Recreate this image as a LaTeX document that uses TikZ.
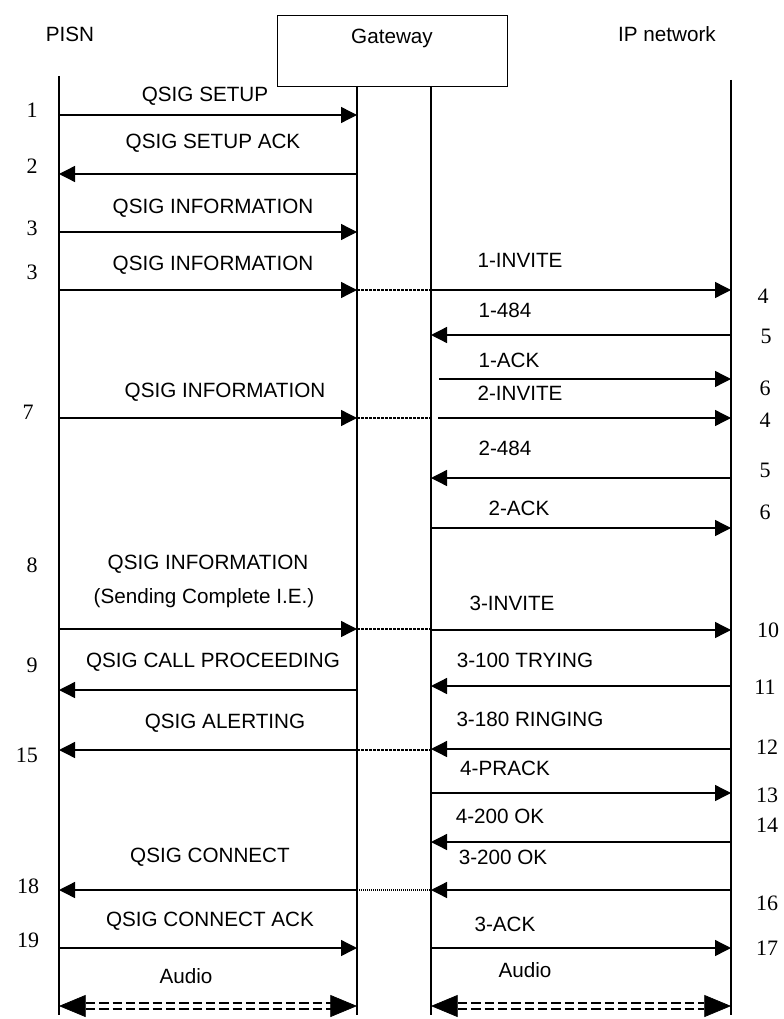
\documentclass[tikz,border=0pt]{standalone}
\usepackage{fontspec}
\setmainfont{Liberation Sans}
\newfontfamily\numfont{Liberation Serif}
\usetikzlibrary{arrows.meta}
\begin{document}
\begin{tikzpicture}[x=0.75pt,y=-0.75pt,
  life/.style={line width=1pt},
  msg/.style={line width=1pt,-{Triangle[length=12pt,width=12pt]}},
  lbl/.style={font=\fontsize{15.5}{18}\selectfont, inner sep=0},
  num/.style={font=\numfont\fontsize{16.5}{18}\selectfont, inner sep=0},
  gap/.style={line width=1.8pt, dash pattern=on 2.2pt off 0.8pt},
  thingap/.style={line width=0.9pt, dash pattern=on 0.9pt off 0.6pt},
  audio/.style={line width=1.5pt, dash pattern=on 7pt off 3pt},
  audiotip/.style={white, line width=0.5pt, {Triangle[color=black,length=20pt,width=16.5pt]}-{Triangle[color=black,length=20pt,width=16.5pt]}},
]
\useasboundingbox (0,0) rectangle (783,1019);
% headers
\node[lbl] (hp) at (70,34) {PISN};
\node[draw, line width=1pt, minimum width=172.5pt, minimum height=53.25pt, anchor=north west, inner sep=0] (gw) at (277,15) {};
\node[lbl] (hg) at (392,38) {Gateway};
\node[lbl] (hi) at (667,34) {IP network};
% lifelines
\coordinate (p) at (59,76);   \coordinate (pb) at (59,1015);
\coordinate (g1) at (357,86); \coordinate (g1b) at (357,1015);
\coordinate (g2) at (431,86); \coordinate (g2b) at (431,1015);
\coordinate (ip) at (731,80);  \coordinate (ipb) at (731,1015);
\draw[life] (p) -- (pb);
\draw[life] (g1) -- (g1b);
\draw[life] (g2) -- (g2b);
\draw[life] (ip) -- (ipb);

% 1
\node[num] (n1) at (32,110) {1};
\node[lbl] (l1) at (205,96) {QSIG SETUP};
\draw[msg] (p |- 0,115) -- (g1 |- 0,115);
% 2
\node[num] (n2) at (32,166) {2};
\node[lbl] (l2) at (213,143) {QSIG SETUP ACK};
\draw[msg] (g1 |- 0,174) -- (p |- 0,174);
% 3
\node[num] (n3) at (32,228) {3};
\node[lbl] (l3) at (213,208) {QSIG INFORMATION};
\draw[msg] (p |- 0,232) -- (g1 |- 0,232);
% 3b / 4
\node[num] (n3b) at (32,272) {3};
\node[lbl] (l3b) at (213,265) {QSIG INFORMATION};
\draw[msg] (p |- 0,290) -- (g1 |- 0,290);
\draw[gap] (g1 |- 0,290) -- (g2 |- 0,290);
\node[lbl] (l4) at (520,260) {1-INVITE};
\draw[msg] (g2 |- 0,290) -- (ip |- 0,290);
\node[num] (n4) at (763,296) {4};
% 5
\node[lbl] (l5) at (505,310) {1-484};
\draw[msg] (ip |- 0,335) -- (g2 |- 0,335);
\node[num] (n5) at (766,336) {5};
% 6
\node[lbl] (l6) at (509,360) {1-ACK};
\draw[msg] (439,379) coordinate (s6) -- (ip |- s6);
\node[num] (n6) at (765,388) {6};
% 7
\node[num] (n7) at (28,412) {7};
\node[lbl] (l7) at (225,392) {QSIG INFORMATION};
\draw[msg] (p |- 0,418) -- (g1 |- 0,418);
\draw[gap] (g1 |- 0,418) -- (g2 |- 0,418);
\node[lbl] (l7b) at (520,393) {2-INVITE};
\draw[msg] (438,418) coordinate (s7) -- (ip |- s7);
\node[num] (n4b) at (765,420) {4};
% 2-484
\node[lbl] (l5b) at (505,448) {2-484};
\draw[msg] (ip |- 0,478) -- (g2 |- 0,478);
\node[num] (n5b) at (765,470) {5};
% 2-ACK
\node[lbl] (l6b) at (519,508) {2-ACK};
\draw[msg] (g2 |- 0,528) -- (ip |- 0,528);
\node[num] (n6b) at (765,512) {6};
% 8 / 10
\node[num] (n8) at (32,565) {8};
\node[lbl] (l8) at (208,564) {QSIG INFORMATION};
\node[lbl] (l8b) at (204,598) {(Sending Complete I.E.)};
\draw[msg] (p |- 0,629) -- (g1 |- 0,629);
\draw[gap] (g1 |- 0,629) -- (g2 |- 0,629);
\node[lbl] (l10) at (512,603) {3-INVITE};
\draw[msg] (g2 |- 0,630) -- (ip |- 0,630);
\node[num] (n10) at (768,630) {10};
% 9 / 11
\node[num] (n9) at (32,665) {9};
\node[lbl] (l9) at (213,662) {QSIG CALL PROCEEDING};
\draw[msg] (g1 |- 0,690) -- (p |- 0,690);
\node[lbl] (l11) at (525,660) {3-100 TRYING};
\draw[msg] (ip |- 0,686) -- (g2 |- 0,686);
\node[num] (n11) at (765,687) {11};
% 15 / 12
\node[num] (n15) at (27,755) {15};
\node[lbl] (l15) at (225,723) {QSIG ALERTING};
\draw[msg] (g1 |- 0,750) -- (p |- 0,750);
\draw[gap] (g1 |- 0,750) -- (g2 |- 0,750);
\node[lbl] (l12) at (530,719) {3-180 RINGING};
\draw[msg] (ip |- 0,749) -- (g2 |- 0,749);
\node[num] (n12) at (767,747) {12};
% 13
\node[lbl] (l13) at (505,768) {4-PRACK};
\draw[msg] (g2 |- 0,793) -- (ip |- 0,793);
\node[num] (n13) at (767,795) {13};
% 14
\node[lbl] (l14) at (500,816) {4-200 OK};
\draw[msg] (ip |- 0,842) -- (g2 |- 0,842);
\node[num] (n14) at (767,825) {14};
% 18 / 16
\node[num] (n18) at (28,886) {18};
\node[lbl] (l18) at (210,857) {QSIG CONNECT};
\draw[msg] (g1 |- 0,890) -- (p |- 0,890);
\draw[thingap] (g1 |- 0,890) -- (g2 |- 0,890);
\node[lbl] (l16) at (503,857) {3-200 OK};
\draw[msg] (ip |- 0,890) -- (g2 |- 0,890);
\node[num] (n16) at (767,903) {16};
% 19 / 17
\node[num] (n19) at (28,940) {19};
\node[lbl] (l19) at (210,921) {QSIG CONNECT ACK};
\draw[msg] (p |- 0,948) -- (g1 |- 0,948);
\node[lbl] (l17) at (505,924) {3-ACK};
\draw[msg] (g2 |- 0,948) -- (ip |- 0,948);
\node[num] (n17) at (767,948) {17};
% audio
\node[lbl] (la1) at (186,976) {Audio};
\node[lbl] (la2) at (525,970) {Audio};
\draw[audiotip] (p |- 0,1006) -- (g1 |- 0,1006);
\draw[audio] (86,1003) -- (331,1003);
\draw[audio] (86,1009) -- (331,1009);
\draw[audiotip] (g2 |- 0,1006) -- (ip |- 0,1006);
\draw[audio] (458,1003) -- (704,1003);
\draw[audio] (458,1009) -- (704,1009);
\end{tikzpicture}
\end{document}
